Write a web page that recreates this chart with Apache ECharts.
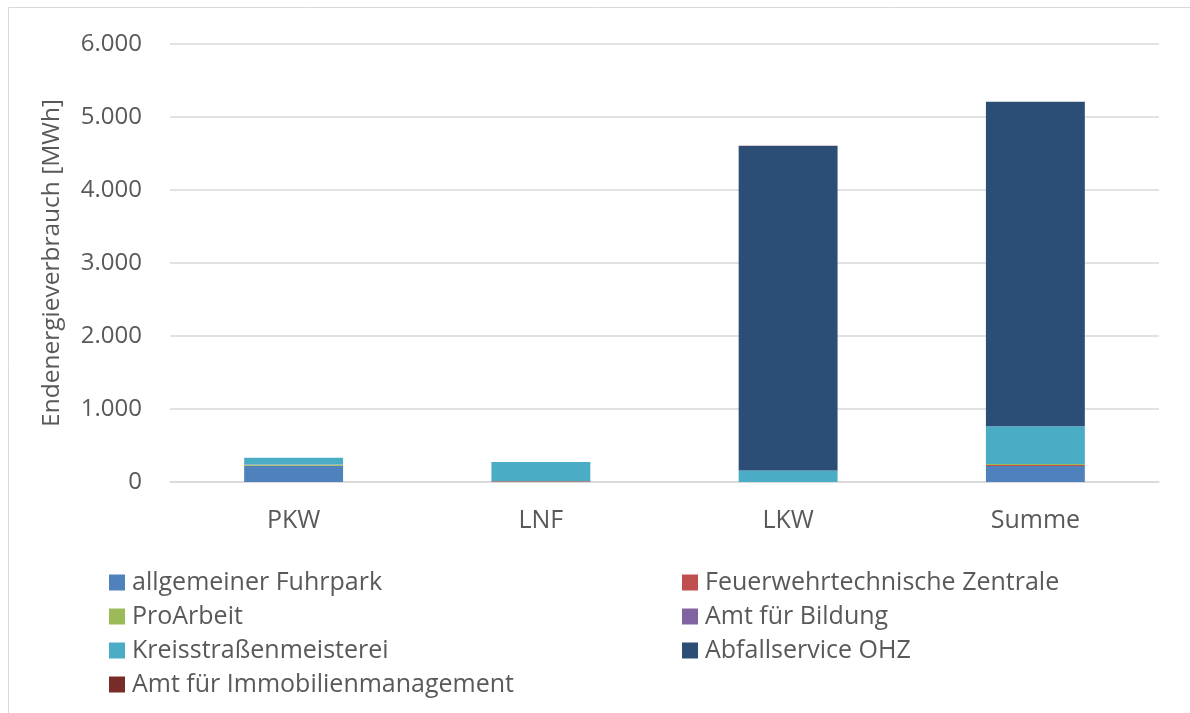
<!DOCTYPE html>
<html><head><meta charset="utf-8">
<script src="https://cdn.jsdelivr.net/npm/echarts@6/dist/echarts.min.js"></script>
<style>html,body{margin:0;padding:0;background:#fff}#c{width:1190px;height:713px}</style>
</head><body><div id="c"></div>
<script>
const categories = ['PKW', 'LNF', 'LKW', 'Summe'];
const seriesNames = ['allgemeiner Fuhrpark', 'Feuerwehrtechnische Zentrale', 'ProArbeit', 'Amt für Bildung', 'Kreisstraßenmeisterei', 'Abfallservice OHZ', 'Amt für Immobilienmanagement'];
const allgemeinerFuhrpark = [218, 0, 0, 218];
const feuerwehr = [6, 9, 0, 15];
const proArbeit = [12, 0, 0, 12];
const amtBildung = [3, 0, 0, 3];
const kreisstrassen = [92, 265, 158, 515];
const abfallservice = [0, 0, 4445, 4445];
const amtImmobilien = [0, 0, 2, 2];
const yTicks = [0, 1000, 2000, 3000, 4000, 5000, 6000];
const colors = ['#4F81BD', '#C0504D', '#9BBB59', '#8064A2', '#4BACC6', '#2C4D75', '#772C2A'];
const values = [allgemeinerFuhrpark, feuerwehr, proArbeit, amtBildung, kreisstrassen, abfallservice, amtImmobilien];

const font = 'Open Sans';
const txt = '#595959';
const chart = echarts.init(document.getElementById('c'));
const legendCommon = {
  orient: 'vertical', itemWidth: 16, itemHeight: 16, itemGap: 9, icon: 'rect', height: 300,
  textStyle: { color: txt, fontSize: 25, fontFamily: font, padding: [0, 0, 0, 2] },
  selectedMode: false
};
chart.setOption({
  animation: false,
  color: colors,
  graphic: [{ type: 'rect', shape: { x: 8.5, y: 7.5, width: 1200, height: 720 }, style: { fill: 'none', stroke: '#d9d9d9', lineWidth: 1 } }],
  grid: { left: 170, right: 31, top: 44, bottom: 231 },
  legend: [
    Object.assign({ left: 104, top: 565, data: [seriesNames[0], seriesNames[2], seriesNames[4], seriesNames[6]] }, legendCommon),
    Object.assign({ left: 677, top: 565, data: [seriesNames[1], seriesNames[3], seriesNames[5]] }, legendCommon)
  ],
  xAxis: {
    type: 'category', data: categories,
    axisLine: { show: true, lineStyle: { color: '#d9d9d9', width: 1.5 } },
    axisTick: { show: false },
    axisLabel: { color: txt, fontSize: 25, fontFamily: font, margin: 26 }
  },
  yAxis: {
    type: 'value', min: yTicks[0], max: yTicks[yTicks.length - 1], interval: 1000,
    name: 'Endenergieverbrauch [MWh]', nameLocation: 'middle', nameGap: 105, nameRotate: 90,
    nameTextStyle: { color: txt, fontSize: 24.5, fontFamily: font },
    axisLine: { show: false }, axisTick: { show: false },
    splitLine: { lineStyle: { color: '#d9d9d9', width: 1.5 } },
    axisLabel: { color: txt, fontSize: 24, fontFamily: font, margin: 28,
      formatter: v => v === 0 ? '0' : (v / 1000).toFixed(0) + '.000' }
  },
  series: seriesNames.map((n, i) => ({
    name: n, type: 'bar', stack: 'total', data: values[i], barWidth: '40%',
    itemStyle: { color: colors[i] }
  }))
});
</script></body></html>
